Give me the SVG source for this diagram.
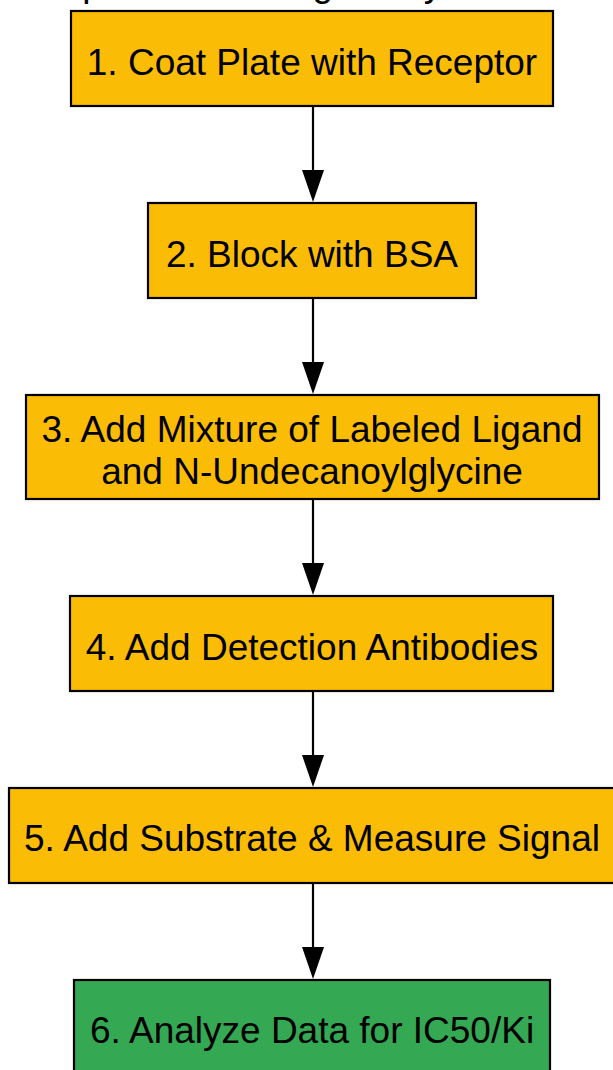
<svg xmlns="http://www.w3.org/2000/svg" width="613" height="1070" viewBox="0 0 613 1070">
<defs>
<style>
.n{stroke:#000;stroke-width:2.2}
.o{fill:#fbbc05}
.g{fill:#34a853}
text{font-family:"Liberation Sans",Arial,sans-serif;font-size:37px;fill:#000;text-anchor:middle}
.e{stroke:#000;stroke-width:2.2;fill:none}
</style>
<marker id="ah" markerWidth="11" markerHeight="15" refX="11" refY="7.5" orient="auto" markerUnits="userSpaceOnUse" viewBox="0 0 11 15">
<path d="M0,0 L11,7.5 L0,15 z" fill="#000"/>
</marker>
</defs>
<rect width="613" height="1070" fill="#fff"/>
<text id="title" x="304" y="-4">Competitive Binding Assay Workflow</text>
<g id="edges">
<path class="e" d="M313,106 V170"/><path d="M302,170 L324,170 L313,202 z"/>
<path class="e" d="M313,298 V362"/><path d="M302,362 L324,362 L313,394 z"/>
<path class="e" d="M313,499 V563"/><path d="M302,563 L324,563 L313,595 z"/>
<path class="e" d="M313,691 V755"/><path d="M302,755 L324,755 L313,787 z"/>
<path class="e" d="M313,883 V947"/><path d="M302,947 L324,947 L313,979 z"/>
</g>
<g id="n1"><rect class="n o" x="71" y="11" width="482" height="95"/><text x="312" y="75">1. Coat Plate with Receptor</text></g>
<g id="n2"><rect class="n o" x="148" y="203" width="328" height="95"/><text x="312" y="267">2. Block with BSA</text></g>
<g id="n3"><rect class="n o" x="26" y="395" width="573" height="104"/><text x="312" y="442">3. Add Mixture of Labeled Ligand</text><text x="312" y="484">and N-Undecanoylglycine</text></g>
<g id="n4"><rect class="n o" x="70" y="596" width="483" height="95"/><text x="312" y="660">4. Add Detection Antibodies</text></g>
<g id="n5"><rect class="n o" x="9" y="788" width="608" height="95"/><text x="312" y="851">5. Add Substrate &amp; Measure Signal</text></g>
<g id="n6"><rect class="n g" x="74" y="980" width="476" height="100"/><text x="312" y="1043">6. Analyze Data for IC50/Ki</text></g>
</svg>
